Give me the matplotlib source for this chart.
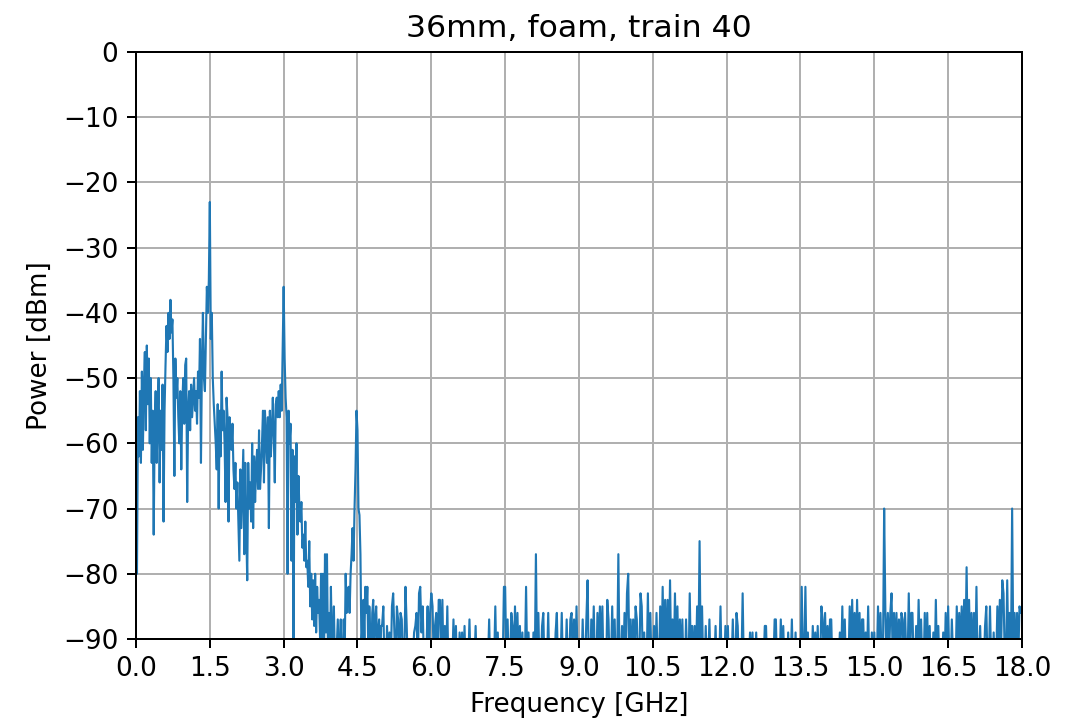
import numpy as np
import matplotlib
matplotlib.use("Agg")
import matplotlib.pyplot as plt

plt.rcParams["font.size"] = 10.5

# spectrum
# 0 - 5 GHz, one value every 0.02 GHz
low_step = 0.02
low_power = [
    -53, -80, -56, -62, -52, -63, -49, -61, -51, -46,
    -58, -45, -54, -47, -60, -50, -63, -55, -74, -57,
    -52, -63, -56, -50, -66, -55, -61, -51, -72, -55,
    -48, -42, -46, -40, -44, -38, -43, -41, -50, -65,
    -47, -53, -50, -56, -60, -52, -64, -54, -50, -57,
    -48, -47, -69, -55, -52, -58, -51, -56, -53, -50,
    -55, -52, -57, -49, -53, -44, -63, -48, -40, -50,
    -52, -44, -36, -40, -35, -23, -44, -40, -50, -54,
    -57, -60, -64, -54, -70, -55, -62, -49, -58, -55,
    -60, -69, -53, -56, -72, -56, -58, -61, -57, -64,
    -67, -63, -70, -66, -72, -78, -64, -73, -67, -61,
    -77, -63, -73, -81, -63, -70, -66, -72, -60, -73,
    -62, -69, -64, -61, -67, -58, -67, -64, -60, -55,
    -66, -55, -59, -63, -56, -73, -55, -62, -58, -53,
    -59, -66, -54, -53, -56, -52, -56, -51, -55, -45,
    -36, -47, -53, -56, -80, -55, -60, -57, -78, -61,
    -92, -62, -69, -60, -74, -65, -70, -72, -69, -76,
    -74, -78, -72, -79, -78, -82, -75, -85, -80, -87,
    -81, -88, -80, -89, -82, -86, -84, -90, -80, -92,
    -80, -93, -77, -89, -77, -92, -86, -95, -82, -91,
    -90, -85, -93, -95, -91, -87, -94, -92, -87, -96,
    -93, -87, -92, -80, -86, -83, -82, -86, -80, -77,
    -73, -78, -70, -64, -55, -58, -70, -71, -77, -91,
    -88, -84, -90, -82, -86, -82, -92, -85, -89, -95,
    -86, -84, -93, -87, -85, -91, -89, -87, -95, -88,
]

# 5 - 18 GHz noise floor, one value every 0.025 GHz (two rows per GHz)
high_step = 0.025
high_power = [
    -88, -85, -95, -96, -88, -94, -89, -95, -85, -83, -89, -96, -85, -87, -94, -86, -87, -95, -93, -82,
    -88, -95, -97, -94, -96, -93, -89, -88, -86, -95, -83, -82, -89, -85, -94, -96, -92, -85, -95, -86,
    -83, -85, -94, -88, -86, -95, -84, -84, -93, -84, -95, -88, -94, -85, -96, -95, -97, -94, -87, -95,
    -88, -96, -95, -89, -94, -89, -95, -88, -96, -97, -94, -87, -95, -97, -96, -94, -88, -95, -97, -96,
    -95, -97, -90, -96, -95, -97, -94, -87, -96, -95, -97, -94, -85, -95, -89, -96, -97, -95, -94, -82,
    -82, -94, -87, -95, -94, -86, -88, -95, -85, -94, -86, -95, -88, -96, -89, -95, -94, -82, -95, -89,
    -96, -95, -97, -89, -95, -77, -95, -86, -96, -94, -88, -86, -95, -97, -94, -86, -95, -96, -97, -94,
    -95, -89, -86, -95, -96, -94, -86, -95, -97, -94, -87, -95, -94, -87, -86, -95, -87, -94, -85, -95,
    -96, -94, -95, -87, -95, -94, -87, -81, -95, -96, -87, -94, -85, -95, -96, -86, -94, -85, -93, -85,
    -95, -94, -96, -84, -87, -95, -94, -85, -95, -87, -96, -94, -77, -95, -94, -88, -95, -86, -94, -83,
    -80, -94, -87, -95, -87, -94, -85, -87, -95, -94, -83, -85, -95, -89, -96, -94, -83, -95, -86, -95,
    -94, -88, -95, -86, -94, -95, -85, -94, -82, -93, -84, -94, -84, -93, -81, -94, -87, -94, -83, -94,
    -85, -95, -87, -94, -87, -95, -96, -87, -94, -95, -83, -94, -88, -95, -88, -94, -85, -93, -75, -94,
    -85, -95, -96, -88, -95, -94, -87, -95, -96, -97, -94, -88, -95, -96, -94, -85, -95, -96, -94, -88,
    -95, -88, -96, -95, -94, -87, -95, -94, -86, -88, -95, -96, -94, -83, -95, -96, -97, -95, -94, -89,
    -95, -89, -96, -95, -89, -95, -97, -96, -95, -97, -94, -88, -88, -95, -96, -97, -95, -96, -94, -87,
    -87, -95, -96, -95, -87, -94, -88, -95, -96, -95, -89, -95, -94, -87, -95, -96, -89, -95, -90, -96,
    -95, -82, -94, -93, -82, -95, -89, -95, -96, -95, -88, -94, -89, -95, -88, -95, -94, -85, -87, -94,
    -86, -95, -88, -94, -87, -87, -95, -96, -97, -96, -95, -94, -89, -94, -85, -95, -87, -95, -96, -94,
    -85, -94, -84, -93, -86, -94, -84, -93, -86, -94, -87, -87, -95, -89, -94, -85, -95, -96, -89, -95,
    -89, -95, -94, -85, -93, -86, -94, -93, -70, -86, -94, -86, -93, -86, -83, -94, -86, -93, -86, -94,
    -87, -94, -86, -87, -94, -86, -93, -94, -83, -94, -86, -86, -94, -95, -88, -94, -84, -93, -87, -94,
    -95, -86, -94, -86, -95, -88, -96, -94, -89, -95, -84, -94, -88, -95, -96, -94, -89, -95, -86, -94,
    -85, -94, -95, -87, -93, -94, -95, -85, -93, -86, -93, -85, -93, -84, -92, -79, -93, -84, -93, -86,
    -94, -86, -94, -82, -95, -94, -88, -95, -96, -94, -88, -85, -94, -95, -85, -94, -95, -89, -95, -94,
    -85, -93, -84, -92, -81, -83, -93, -94, -81, -93, -86, -94, -70, -93, -86, -94, -86, -93, -85, -86,
    -86,
]

freq_low = np.arange(len(low_power)) * low_step
freq_high = 5.0 + np.arange(len(high_power)) * high_step
freq = np.concatenate([freq_low, freq_high])
power = np.concatenate([low_power, high_power])

fig = plt.figure(figsize=(1081 / 180, 723 / 180), dpi=180)
ax = fig.add_subplot(111)
ax.plot(freq, power, color="#1f77b4", linewidth=0.85)
ax.set_xlim(0, 18)
ax.set_ylim(-90, 0)
ticks = np.arange(0, 18.01, 1.5)
ax.set_xticks(ticks)
ax.set_xticklabels([f"{t:.1f}" for t in ticks])
ax.set_yticks(np.arange(-90, 1, 10))
ax.grid(True)
ax.set_title("36mm, foam, train 40")
ax.set_xlabel("Frequency [GHz]")
ax.set_ylabel("Power [dBm]")
fig.subplots_adjust(left=0.1258, right=0.9454, top=0.9281, bottom=0.1162)
fig.savefig("out.png", dpi=180)
